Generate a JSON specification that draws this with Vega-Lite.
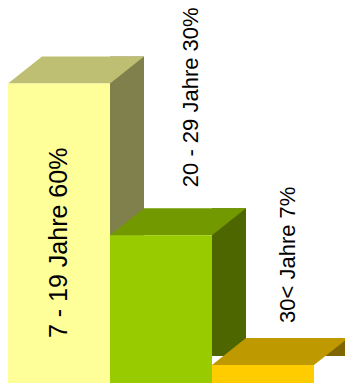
{
  "$schema": "https://vega.github.io/schema/vega-lite/v6.json",
  "autosize": {"type": "none"},
  "padding": {"left": 8, "top": 0, "right": 31, "bottom": 0},
  "width": 306,
  "height": 383,
  "background": "white",
  "config": {"view": {"stroke": null}},
  "data": {
    "values": [
      {"label": "7 - 19 Jahre", "value": 60, "text": "7 - 19 Jahre 60%"},
      {"label": "20 - 29 Jahre", "value": 29.6, "text": "20 - 29 Jahre 30%"},
      {"label": "30< Jahre", "value": 3.6, "text": "30< Jahre 7%"}
    ]
  },
  "resolve": {"scale": {"fill": "independent"}},
  "layer": [
    {
      "mark": {"type": "bar", "width": 34, "xOffset": 68, "yOffset": -27},
      "encoding": {
        "x": {"field": "label", "type": "nominal", "sort": null, "scale": {"type": "band", "paddingInner": 0, "paddingOuter": 0}, "axis": null},
        "y": {"field": "value", "type": "quantitative", "scale": {"domain": [0, 76.7], "nice": false}, "axis": null},
        "fill": {"field": "label", "type": "nominal", "sort": null, "scale": {"domain": ["7 - 19 Jahre", "20 - 29 Jahre", "30< Jahre"], "range": ["#80804D", "#4D6600", "#806600"]}, "legend": null}
      }
    },
    {
      "mark": {"type": "point", "shape": "M0,0L34,-27L34,0Z", "size": 4, "filled": true, "opacity": 1, "strokeWidth": 0, "color": "white"},
      "encoding": {
        "x": {"field": "label", "type": "nominal", "sort": null, "bandPosition": 1, "scale": {"type": "band", "paddingInner": 0, "paddingOuter": 0}, "axis": null},
        "y": {"datum": 0, "type": "quantitative", "scale": {"domain": [0, 76.7], "nice": false}, "axis": null}
      }
    },
    {
      "mark": {"type": "point", "shape": "M0,0L102,0L136,-27L34,-27Z", "size": 4, "filled": true, "opacity": 1, "strokeWidth": 0},
      "encoding": {
        "x": {"field": "label", "type": "nominal", "sort": null, "bandPosition": 0, "scale": {"type": "band", "paddingInner": 0, "paddingOuter": 0}, "axis": null},
        "y": {"field": "value", "type": "quantitative", "scale": {"domain": [0, 76.7], "nice": false}, "axis": null},
        "fill": {"field": "label", "type": "nominal", "sort": null, "scale": {"domain": ["7 - 19 Jahre", "20 - 29 Jahre", "30< Jahre"], "range": ["#BFBF73", "#739900", "#BF9900"]}, "legend": null}
      }
    },
    {
      "mark": {"type": "bar"},
      "encoding": {
        "x": {"field": "label", "type": "nominal", "sort": null, "scale": {"type": "band", "paddingInner": 0, "paddingOuter": 0}, "axis": null},
        "y": {"field": "value", "type": "quantitative", "scale": {"domain": [0, 76.7], "nice": false}, "axis": null},
        "fill": {"field": "label", "type": "nominal", "sort": null, "scale": {"domain": ["7 - 19 Jahre", "20 - 29 Jahre", "30< Jahre"], "range": ["#FFFF99", "#99CC00", "#FFCC00"]}, "legend": null}
      }
    },
    {
      "transform": [{"filter": "datum.label === '7 - 19 Jahre'"}],
      "mark": {"type": "text", "angle": 270, "align": "left", "baseline": "alphabetic", "font": "Liberation Sans", "fontSize": 25, "color": "black", "xOffset": 8, "yOffset": -45},
      "encoding": {
        "x": {"field": "label", "type": "nominal", "sort": null, "scale": {"type": "band", "paddingInner": 0, "paddingOuter": 0}, "axis": null},
        "y": {"datum": 0, "type": "quantitative", "scale": {"domain": [0, 76.7], "nice": false}, "axis": null},
        "text": {"field": "text"}
      }
    },
    {
      "transform": [{"filter": "datum.label === '20 - 29 Jahre'"}],
      "mark": {"type": "text", "angle": 270, "align": "left", "baseline": "alphabetic", "font": "Liberation Sans", "fontSize": 22, "color": "black", "xOffset": 37, "yOffset": -48},
      "encoding": {
        "x": {"field": "label", "type": "nominal", "sort": null, "scale": {"type": "band", "paddingInner": 0, "paddingOuter": 0}, "axis": null},
        "y": {"field": "value", "type": "quantitative", "scale": {"domain": [0, 76.7], "nice": false}, "axis": null},
        "text": {"field": "text"}
      }
    },
    {
      "transform": [{"filter": "datum.label === '30< Jahre'"}],
      "mark": {"type": "text", "angle": 270, "align": "left", "baseline": "alphabetic", "font": "Liberation Sans", "fontSize": 22, "color": "black", "xOffset": 32, "yOffset": -42},
      "encoding": {
        "x": {"field": "label", "type": "nominal", "sort": null, "scale": {"type": "band", "paddingInner": 0, "paddingOuter": 0}, "axis": null},
        "y": {"field": "value", "type": "quantitative", "scale": {"domain": [0, 76.7], "nice": false}, "axis": null},
        "text": {"field": "text"}
      }
    }
  ]
}
